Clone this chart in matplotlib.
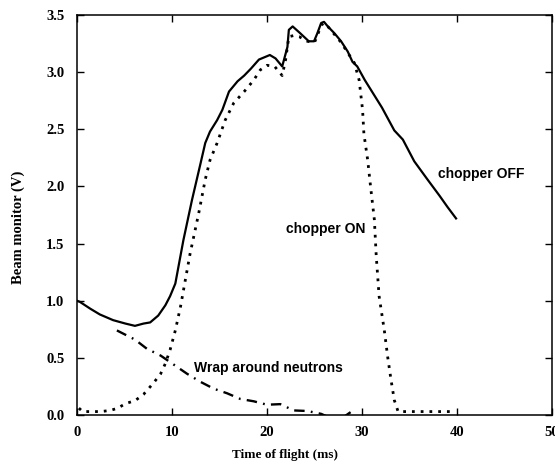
import matplotlib
matplotlib.use("Agg")
import matplotlib.pyplot as plt

plt.rcParams['lines.scale_dashes'] = False

# chopper OFF (solid)
t_off = [0.0, 0.3, 1.4, 2.4, 3.8, 5.1, 6.1, 7.0, 7.7, 8.55, 9.3, 9.8, 10.35, 11.2, 12.1,
         13.0, 13.5, 14.0, 14.75, 15.3, 16.0, 16.9, 17.6, 18.3, 19.15, 20.3, 20.9, 21.6,
         22.15, 22.3, 22.7, 23.5, 24.4, 24.95, 25.3, 25.7, 26.0, 26.4, 27.1, 27.8, 28.5,
         29.0, 29.5, 30.3, 31.2, 32.1, 33.4, 34.3, 35.5, 36.9, 38.15, 39.0, 39.9]
v_off = [1.0, 0.99, 0.93, 0.88, 0.83, 0.80, 0.78, 0.80, 0.81, 0.87, 0.96, 1.04, 1.15, 1.53, 1.88,
         2.20, 2.38, 2.48, 2.58, 2.67, 2.83, 2.92, 2.97, 3.03, 3.11, 3.15, 3.12, 3.05,
         3.22, 3.37, 3.40, 3.34, 3.27, 3.27, 3.34, 3.43, 3.44, 3.40, 3.34, 3.27, 3.18,
         3.09, 3.05, 2.93, 2.81, 2.69, 2.49, 2.41, 2.22, 2.06, 1.92, 1.82, 1.72]

# chopper ON (dotted)
t_on = [0.2, 0.6, 1.5, 2.5, 3.5, 4.3, 5.1, 6.1, 7.0, 8.05, 8.8, 9.3, 9.8, 10.35, 10.9, 11.4,
        11.9, 12.8, 13.5, 14.0, 14.75, 15.6, 16.5, 17.6, 18.6, 19.3, 20.0, 20.8, 21.4, 21.6,
        21.96, 22.3, 22.8, 23.4, 24.25, 25.0, 25.3, 25.7, 26.0, 26.4, 27.1, 27.8, 28.5,
        29.2, 29.7, 30.06, 30.2, 30.6, 30.9, 31.3, 31.5, 31.8, 32.35, 32.7, 33.05, 33.4,
        33.8, 35.0, 37.0, 39.6]
v_on = [0.06, 0.03, 0.03, 0.03, 0.04, 0.06, 0.10, 0.125, 0.18, 0.28, 0.36, 0.45, 0.57, 0.74, 0.95, 1.18,
        1.41, 1.76, 2.06, 2.23, 2.38, 2.58, 2.73, 2.83, 2.93, 3.02, 3.06, 3.05, 2.99, 2.97,
        3.11, 3.31, 3.32, 3.31, 3.27, 3.26, 3.32, 3.41, 3.43, 3.40, 3.33, 3.26, 3.17,
        3.08, 2.93, 2.67, 2.46, 2.23, 2.00, 1.71, 1.39, 1.04, 0.74, 0.51, 0.31, 0.13,
        0.03, 0.03, 0.03, 0.03]

# wrap around neutrons (dash-dot)
t_wrap = [4.2, 6.1, 7.35, 8.8, 10.2, 11.6, 13.0, 14.4, 15.8, 17.2, 18.6, 20.0, 21.4,
          22.8, 24.25, 25.7, 26.5, 28.2, 28.8]
v_wrap = [0.74, 0.66, 0.58, 0.52, 0.44, 0.36, 0.29, 0.23, 0.19, 0.14, 0.12, 0.09, 0.095,
          0.04, 0.035, 0.01, -0.02, -0.01, 0.025]

x_ticks = [0, 10, 20, 30, 40, 50]
y_ticks = [0.0, 0.5, 1.0, 1.5, 2.0, 2.5, 3.0, 3.5]

fig = plt.figure(figsize=(5.55, 4.65), dpi=100)
ax = fig.add_axes([77/555, 50/465, 475/555, 400/465])

ax.plot(t_off, v_off, color='black', lw=1.6, ls='-')
ax.plot(t_on, v_on, color='black', lw=2.0, ls=(0, (2.0, 4.3)))
ax.plot(t_wrap, v_wrap, color='black', lw=1.7, ls=(0, (7.5, 4.5, 1.3, 4.5)))

ax.set_xlim(0, 50)
ax.set_ylim(0, 3.5)
ax.set_xticks(x_ticks)
ax.set_yticks(y_ticks)

serif = ['Liberation Serif', 'DejaVu Serif']
ax.set_xticklabels([str(v) for v in x_ticks], fontfamily=serif, fontweight='bold', fontsize=10.5)
ax.set_yticklabels([f"{v:.1f}" for v in y_ticks], fontfamily=serif, fontweight='bold', fontsize=10.5)
ax.tick_params(direction='in', length=5, width=1.0, top=True, right=True)
ax.tick_params(axis='x', pad=8)
ax.tick_params(axis='y', pad=9)

for s in ax.spines.values():
    s.set_linewidth(1.1)

ax.set_xlabel('Time of flight (ms)', fontfamily=serif, fontweight='bold', fontsize=9.5)
ax.xaxis.set_label_coords(0.437, -0.1)
ax.xaxis.label.set_va('center')
ax.set_ylabel('Beam monitor (V)', fontfamily=serif, fontweight='bold', fontsize=10.5)
ax.yaxis.set_label_coords(-0.124, 0.469)
ax.yaxis.label.set_va('center')

sans = ['Liberation Sans', 'DejaVu Sans']
ax.text(38.0, 2.11, 'chopper OFF', fontfamily=sans, fontweight='bold', fontsize=10, va='center', ha='left')
ax.text(21.96, 1.63, 'chopper ON', fontfamily=sans, fontweight='bold', fontsize=10, va='center', ha='left')
ax.text(12.28, 0.41, 'Wrap around neutrons', fontfamily=sans, fontweight='bold', fontsize=10, va='center', ha='left')

fig.savefig('out.png', dpi=100)
